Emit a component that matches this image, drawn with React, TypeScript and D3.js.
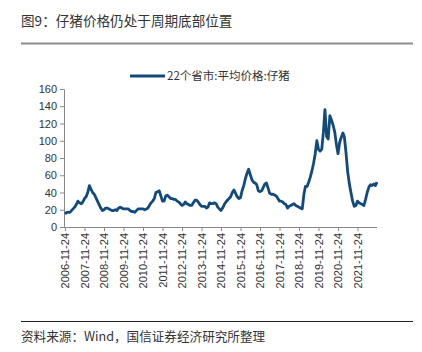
import React, { useRef, useEffect } from 'react';
import * as d3 from 'd3';

// monthly piglet price (yuan/kg), first point 2006-11
const startYear = 2006;
const startMonth = 10; // November, 0-based
const prices = [
  15, 17, 17, 17, 19, 21, 23, 26, 30, 28, 27, 29,
  33, 35, 40, 48, 44, 40, 38, 34, 30, 26, 22, 19,
  20, 22, 22, 21, 20, 19, 19, 20, 19, 22, 23, 22,
  21, 21, 21, 21, 19, 18, 18, 17, 19, 21, 21, 21,
  21, 20, 21, 22, 25, 28, 30, 33, 40, 41, 42, 36,
  30, 30, 36, 37, 35, 33, 33, 32, 32, 30, 29, 27,
  25, 26, 29, 27, 26, 25, 25, 28, 31, 31, 29, 26,
  24, 24, 24, 22, 23, 28, 27, 27, 28, 27, 23, 21,
  19, 22, 26, 29, 31, 33, 35, 40, 43, 39, 35, 33,
  34, 42, 48, 56, 62, 67, 61, 55, 52, 51, 49, 42,
  41, 42, 46, 50, 51, 45, 39, 38, 38, 37, 36, 33,
  30, 30, 29, 27, 26, 22, 24, 25, 26, 27, 25, 24,
  23, 22, 21, 38, 47, 47, 52, 58, 65, 74, 85, 100,
  90, 88, 90, 110, 136, 105, 102, 129, 124, 118, 110, 96,
  85, 98, 104, 109, 104, 85, 64, 50, 40, 30, 24, 25,
  30, 28, 27, 26, 25, 32, 40, 46, 49, 48, 50, 48,
  52,
];
const tickYears = d3.range(2006, 2022);
const yTicks = [0, 20, 40, 60, 80, 100, 120, 140, 160];
const seriesName = '22个省市:平均价格:仔猪';
const title = '图9：仔猪价格仍处于周期底部位置';
const source = '资料来源：Wind，国信证券经济研究所整理';

const App = () => {
  const ref = useRef<SVGSVGElement>(null);

  useEffect(() => {
    const svg = d3.select(ref.current);
    svg.selectAll('*').remove();
    const cjk = '"Noto Sans CJK SC", "Noto Sans", sans-serif';
    const latin = '"Liberation Sans", Arial, sans-serif';

    const data = prices.map((v, i) => ({
      date: new Date(startYear, startMonth + i, 24),
      value: v,
    }));

    const x = d3
      .scaleTime()
      .domain([new Date(2006, 10, 24), new Date(2022, 10, 24)])
      .range([65, 377]);
    const y = d3.scaleLinear().domain([0, 160]).range([227, 89]);

    // title
    svg
      .append('text')
      .attr('x', 21)
      .attr('y', 26)
      .attr('font-family', cjk)
      .attr('font-size', 13.6)
      .attr('fill', '#333')
      .text(title);
    svg
      .append('line')
      .attr('x1', 21)
      .attr('x2', 413)
      .attr('y1', 43.5)
      .attr('y2', 43.5)
      .attr('stroke', '#8c8c8c')
      .attr('stroke-width', 2);

    // legend
    svg
      .append('line')
      .attr('x1', 130)
      .attr('x2', 165)
      .attr('y1', 76)
      .attr('y2', 76)
      .attr('stroke', '#124a7c')
      .attr('stroke-width', 3);
    svg
      .append('text')
      .attr('x', 167)
      .attr('y', 80)
      .attr('font-family', cjk)
      .attr('font-size', 11.5)
      .attr('fill', '#333')
      .text(seriesName);

    // y axis
    const yAxis = svg
      .append('g')
      .attr('transform', 'translate(64,0)')
      .call(d3.axisLeft(y).tickValues(yTicks).tickSize(4).tickPadding(3));
    yAxis.select('.domain').attr('stroke', '#888');
    yAxis.selectAll('.tick line').attr('stroke', '#888');
    yAxis
      .selectAll('text')
      .attr('font-family', latin)
      .attr('font-size', 11)
      .attr('fill', '#333');

    // x axis
    const xAxis = svg
      .append('g')
      .attr('transform', 'translate(0,227)')
      .call(
        d3
          .axisBottom(x)
          .tickValues(tickYears.map((yr) => new Date(yr, 10, 24)))
          .tickFormat((d) => d3.timeFormat('%Y-%m-%d')(d as Date))
          .tickSize(4)
          .tickSizeOuter(0)
      );
    xAxis.select('.domain').attr('stroke', '#888').attr('d', 'M64,0.5H377');
    xAxis.selectAll('.tick line').attr('stroke', '#888');
    xAxis
      .selectAll('text')
      .attr('font-family', latin)
      .attr('font-size', 11)
      .attr('fill', '#333')
      .attr('y', 0)
      .attr('x', -6)
      .attr('dy', '0.35em')
      .attr('transform', 'rotate(-90)')
      .style('text-anchor', 'end');

    // series
    const line = d3
      .line<{ date: Date; value: number }>()
      .x((d) => x(d.date))
      .y((d) => y(d.value))
      .curve(d3.curveLinear);
    svg
      .append('path')
      .datum(data)
      .attr('d', line)
      .attr('fill', 'none')
      .attr('stroke', '#124a7c')
      .attr('stroke-width', 2.8)
      .attr('stroke-linejoin', 'round');

    // source
    svg
      .append('line')
      .attr('x1', 21)
      .attr('x2', 413)
      .attr('y1', 321.5)
      .attr('y2', 321.5)
      .attr('stroke', '#222')
      .attr('stroke-width', 1);
    svg
      .append('text')
      .attr('x', 21)
      .attr('y', 341)
      .attr('font-family', cjk)
      .attr('font-size', 12.6)
      .attr('fill', '#333')
      .text(source);
  }, []);

  return (
    <svg
      ref={ref}
      width={422}
      height={352}
      style={{ position: 'absolute', left: 0, top: 0, background: '#fff' }}
    />
  );
};

export default App;
